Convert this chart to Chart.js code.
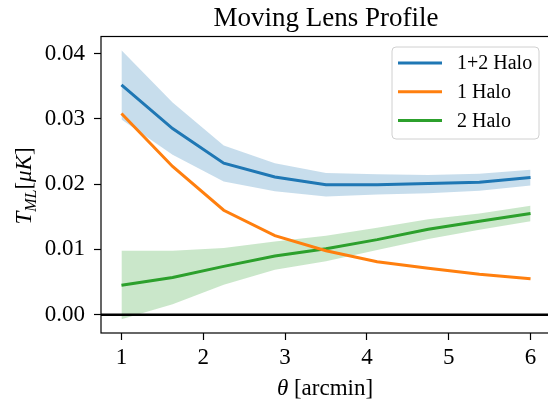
<!DOCTYPE html>
<html lang="es">
<head>
<meta charset="utf-8">
<title>Moving Lens Profile</title>
<script src="https://cdn.jsdelivr.net/npm/chart.js@4.4.0/dist/chart.umd.min.js"></script>
<style>
  html, body { margin: 0; padding: 0; background: #fff; overflow: hidden; width: 548px; height: 400px; }
  canvas { display: block; }
</style>
</head>
<body>
<canvas id="graficoLente" width="551" height="400"></canvas>
<script>
// Datos (theta en arcmin, T_ML en muK)
const theta = [1, 1.625, 2.25, 2.875, 3.5, 4.125, 4.75, 5.375, 6];

const halo12 = [0.0352, 0.0285, 0.0232, 0.0211, 0.0199, 0.0199, 0.0201, 0.0203, 0.0210];
const halo12Alto = [0.0405, 0.0325, 0.0259, 0.0232, 0.0217, 0.0215, 0.0214, 0.0216, 0.0222];
const halo12Bajo = [0.0299, 0.0245, 0.0204, 0.0189, 0.0181, 0.0184, 0.0186, 0.0190, 0.0198];

const halo1 = [0.0308, 0.0227, 0.0160, 0.0121, 0.0098, 0.0081, 0.0071, 0.0062, 0.0055];

const halo2 = [0.0045, 0.0057, 0.0074, 0.0090, 0.0101, 0.0115, 0.0131, 0.0143, 0.0155];
const halo2Alto = [0.0098, 0.0098, 0.0102, 0.0112, 0.0121, 0.0133, 0.0146, 0.0155, 0.0167];
const halo2Bajo = [-0.0007, 0.0016, 0.0046, 0.0069, 0.0082, 0.0099, 0.0116, 0.0130, 0.0143];

const ticksX = [1, 2, 3, 4, 5, 6];
const ticksY = [0, 0.01, 0.02, 0.03, 0.04];

const FUENTE = "'Liberation Serif', 'DejaVu Serif', serif";
const AZUL = '#1f77b4', NARANJA = '#ff7f0e', VERDE = '#2ca02c';

// Convierte una serie en puntos {x, y}
function puntos(valores) {
    return theta.map((t, i) => ({ x: t, y: valores[i] }));
}

// Dibuja un texto con partes de distinta fuente, centrado en x
function textoMixto(ctx, partes, x, y) {
    let ancho = 0;
    partes.forEach(p => { ctx.font = p.f; ancho += ctx.measureText(p.t).width; });
    let cx = x - ancho / 2;
    partes.forEach(p => {
        ctx.font = p.f;
        ctx.fillText(p.t, cx, y + (p.dy || 0));
        cx += ctx.measureText(p.t).width;
    });
}

// Título, ejes, línea del cero y leyenda dentro del área
const decoracion = {
    id: 'decoracion',
    afterDatasetsDraw(chart) {
        const { ctx, chartArea: a, scales: { y } } = chart;
        ctx.save();
        const y0 = y.getPixelForValue(0);
        ctx.strokeStyle = '#000';
        ctx.lineWidth = 2.6;
        ctx.beginPath();
        ctx.moveTo(a.left, y0);
        ctx.lineTo(a.right, y0);
        ctx.stroke();
        ctx.lineWidth = 1.2;
        ctx.strokeRect(a.left, a.top, a.right - a.left, a.bottom - a.top);
        ctx.restore();
    },
    afterDraw(chart) {
        const { ctx, chartArea: a } = chart;
        ctx.save();
        ctx.fillStyle = '#000';
        ctx.textBaseline = 'alphabetic';

        // título
        ctx.font = '27px ' + FUENTE;
        ctx.textAlign = 'center';
        ctx.fillText('Moving Lens Profile', 326, 26);

        // etiqueta eje x
        ctx.textAlign = 'left';
        textoMixto(ctx, [
            { t: 'θ', f: 'italic 23px ' + FUENTE },
            { t: ' [arcmin]', f: '23px ' + FUENTE }
        ], 325, 395);

        // etiqueta eje y (rotada)
        ctx.translate(31, 186);
        ctx.rotate(-Math.PI / 2);
        textoMixto(ctx, [
            { t: 'T', f: 'italic 23px ' + FUENTE },
            { t: 'ML', f: 'italic 16px ' + FUENTE, dy: 5 },
            { t: '[', f: '23px ' + FUENTE },
            { t: 'μK', f: 'italic 23px ' + FUENTE },
            { t: ']', f: '23px ' + FUENTE }
        ], 0, 0);
        ctx.setTransform(1, 0, 0, 1, 0, 0);

        // leyenda
        const caja = { x: 392, y: 47, w: 147, h: 92 };
        ctx.beginPath();
        ctx.roundRect(caja.x, caja.y, caja.w, caja.h, 4);
        ctx.fillStyle = 'rgba(255,255,255,0.8)';
        ctx.fill();
        ctx.strokeStyle = '#d0d0d0';
        ctx.lineWidth = 1;
        ctx.stroke();
        const entradas = chart.data.datasets.filter(d => d.enLeyenda);
        ctx.font = '20px ' + FUENTE;
        ctx.textBaseline = 'middle';
        ctx.textAlign = 'left';
        entradas.forEach((d, i) => {
            const ly = 63 + i * 28.7;
            ctx.strokeStyle = d.borderColor;
            ctx.lineWidth = 3;
            ctx.beginPath();
            ctx.moveTo(398, ly);
            ctx.lineTo(442, ly);
            ctx.stroke();
            ctx.fillStyle = '#000';
            ctx.fillText(d.label, 457, ly + 1);
        });
        ctx.restore();
    }
};

const banda = (datos, relleno, color) => ({
    data: puntos(datos),
    borderWidth: 0,
    pointRadius: 0,
    fill: relleno,
    backgroundColor: color,
    borderColor: 'transparent',
    order: 5
});

const linea = (etiqueta, datos, color) => ({
    label: etiqueta,
    data: puntos(datos),
    borderColor: color,
    borderWidth: 3,
    pointRadius: 0,
    fill: false,
    enLeyenda: true,
    order: 1
});

const ctx = document.getElementById('graficoLente').getContext('2d');
new Chart(ctx, {
    type: 'line',
    data: {
        datasets: [
            banda(halo12Alto, '+1', 'rgba(31,119,180,0.25)'),
            banda(halo12Bajo, false, 'transparent'),
            banda(halo2Alto, '+1', 'rgba(44,160,44,0.25)'),
            banda(halo2Bajo, false, 'transparent'),
            linea('1+2 Halo', halo12, AZUL),
            linea('1 Halo', halo1, NARANJA),
            linea('2 Halo', halo2, VERDE)
        ]
    },
    options: {
        responsive: false,
        animation: false,
        events: [],
        layout: { padding: { top: 36.5, left: 0, right: 0, bottom: 0 } },
        plugins: {
            legend: { display: false },
            title: { display: false },
            tooltip: { enabled: false }
        },
        scales: {
            x: {
                type: 'linear',
                min: 0.75,
                max: 6.25,
                afterBuildTicks: s => { s.ticks = ticksX.map(v => ({ value: v })); },
                afterFit: s => { s.height = 67; },
                border: { display: false },
                grid: { drawOnChartArea: false, drawTicks: true, tickLength: 7, tickColor: '#000', tickWidth: 1.2 },
                ticks: { color: '#000', font: { family: FUENTE, size: 23 }, padding: 4, maxRotation: 0 }
            },
            y: {
                type: 'linear',
                min: -0.0028,
                max: 0.0426,
                afterBuildTicks: s => { s.ticks = ticksY.map(v => ({ value: v })); },
                afterFit: s => { s.width = 101; },
                border: { display: false },
                grid: { drawOnChartArea: false, drawTicks: true, tickLength: 7, tickColor: '#000', tickWidth: 1.2 },
                ticks: { color: '#000', font: { family: FUENTE, size: 23 }, padding: 9, callback: v => v.toFixed(2) }
            }
        }
    },
    plugins: [decoracion]
});
</script>
</body>
</html>
